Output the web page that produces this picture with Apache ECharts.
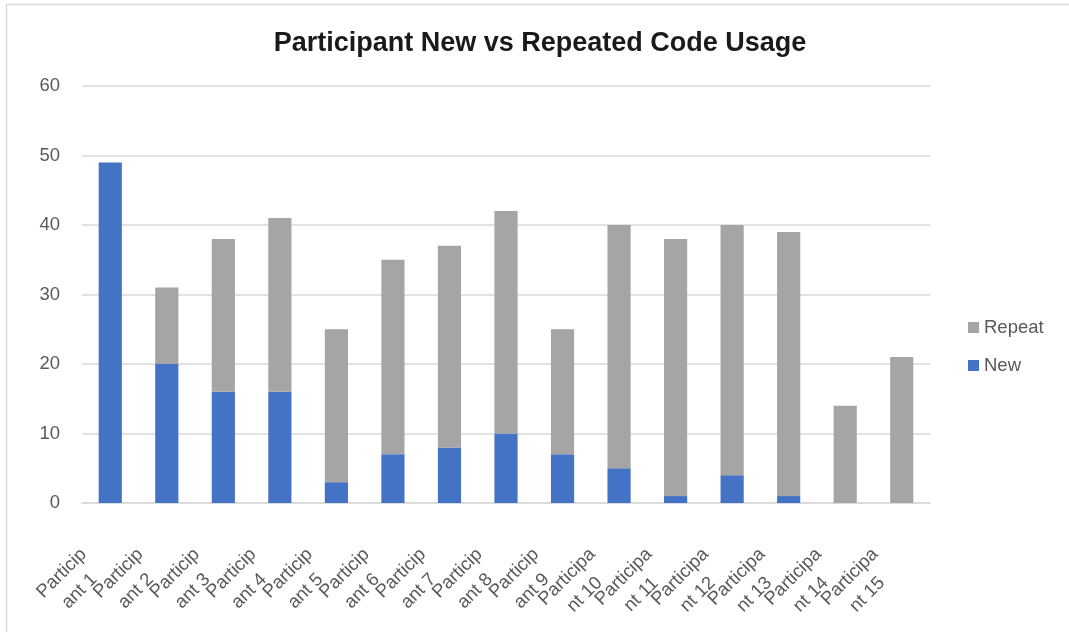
<!DOCTYPE html>
<html>
<head>
<meta charset="utf-8">
<script src="https://cdn.jsdelivr.net/npm/echarts@6/dist/echarts.min.js"></script>
<style>html,body{margin:0;padding:0;background:#fff;}#c{width:1069px;height:632px;}</style>
</head>
<body>
<div id="c"></div>
<script>
var categories = ['Particip\nant 1','Particip\nant 2','Particip\nant 3','Particip\nant 4','Particip\nant 5','Particip\nant 6','Particip\nant 7','Particip\nant 8','Particip\nant 9','Participa\nnt 10','Participa\nnt 11','Participa\nnt 12','Participa\nnt 13','Participa\nnt 14','Participa\nnt 15'];
var newValues = [49, 20, 16, 16, 3, 7, 8, 10, 7, 5, 1, 4, 1, 0, 0];
var repeatValues = [0, 11, 22, 25, 22, 28, 29, 32, 18, 35, 37, 36, 38, 14, 21];
var yTicks = [0, 10, 20, 30, 40, 50, 60];

var font = 'Liberation Sans, Arial, sans-serif';
var labelSize = 18.5;
var mctx = document.createElement('canvas').getContext('2d');
mctx.font = labelSize + 'px ' + font;
function textW(s) { return Math.ceil(mctx.measureText(s).width); }

var rich = {};
var keyOf = {};
categories.forEach(function (c) {
  var parts = c.split('\n');
  var w = Math.max(textW(parts[0]), textW(parts[1]));
  var k = 'w' + w;
  keyOf[c] = k;
  rich[k] = {width: w, align: 'center', fontSize: labelSize, color: '#595959', fontFamily: font, lineHeight: 25};
});

var chart = echarts.init(document.getElementById('c'), null, {renderer: 'canvas'});
chart.setOption({
  animation: false,
  backgroundColor: '#ffffff',
  textStyle: {fontFamily: font},
  title: {
    text: 'Participant New vs Repeated Code Usage',
    left: 535, textAlign: 'center', top: 25,
    textStyle: {fontSize: 27, fontWeight: 'bold', color: '#1a1a1a', fontFamily: font}
  },
  graphic: [
    {type: 'line', shape: {x1: 6, y1: 4.5, x2: 1069, y2: 4.5}, style: {stroke: '#d9d9d9', lineWidth: 1.5}},
    {type: 'line', shape: {x1: 6.5, y1: 4, x2: 6.5, y2: 632}, style: {stroke: '#d9d9d9', lineWidth: 1.5}}
  ],
  legend: {
    orient: 'vertical', left: 968, top: 318, padding: 0,
    itemWidth: 11, itemHeight: 11, itemGap: 19,
    data: ['Repeat', 'New'],
    textStyle: {fontSize: labelSize, color: '#595959', fontFamily: font},
    icon: 'rect'
  },
  grid: {left: 82, right: 139, top: 86, bottom: 129},
  xAxis: {
    type: 'category', data: categories,
    axisLine: {lineStyle: {color: '#d9d9d9', width: 1.5}},
    axisTick: {show: false},
    axisLabel: {
      rotate: 45, interval: 0, margin: 75, align: 'right', verticalAlign: 'bottom',
      fontSize: labelSize, color: '#595959', fontFamily: font, lineHeight: 25,
      formatter: function (v) {
        var p = v.split('\n'); var k = keyOf[v];
        return '{' + k + '|' + p[0] + '}\n{' + k + '|' + p[1] + '}';
      },
      rich: rich
    }
  },
  yAxis: {
    type: 'value', min: yTicks[0], max: yTicks[yTicks.length - 1], interval: 10,
    axisLine: {show: false}, axisTick: {show: false},
    splitLine: {lineStyle: {color: '#d9d9d9', width: 1.5}},
    axisLabel: {fontSize: labelSize, color: '#595959', fontFamily: font, margin: 22}
  },
  series: [
    {name: 'New', type: 'bar', stack: 'a', data: newValues, barWidth: '41%', itemStyle: {color: '#4472c4'}},
    {name: 'Repeat', type: 'bar', stack: 'a', data: repeatValues, barWidth: '41%', itemStyle: {color: '#a5a5a5'}}
  ]
});
</script>
</body>
</html>
